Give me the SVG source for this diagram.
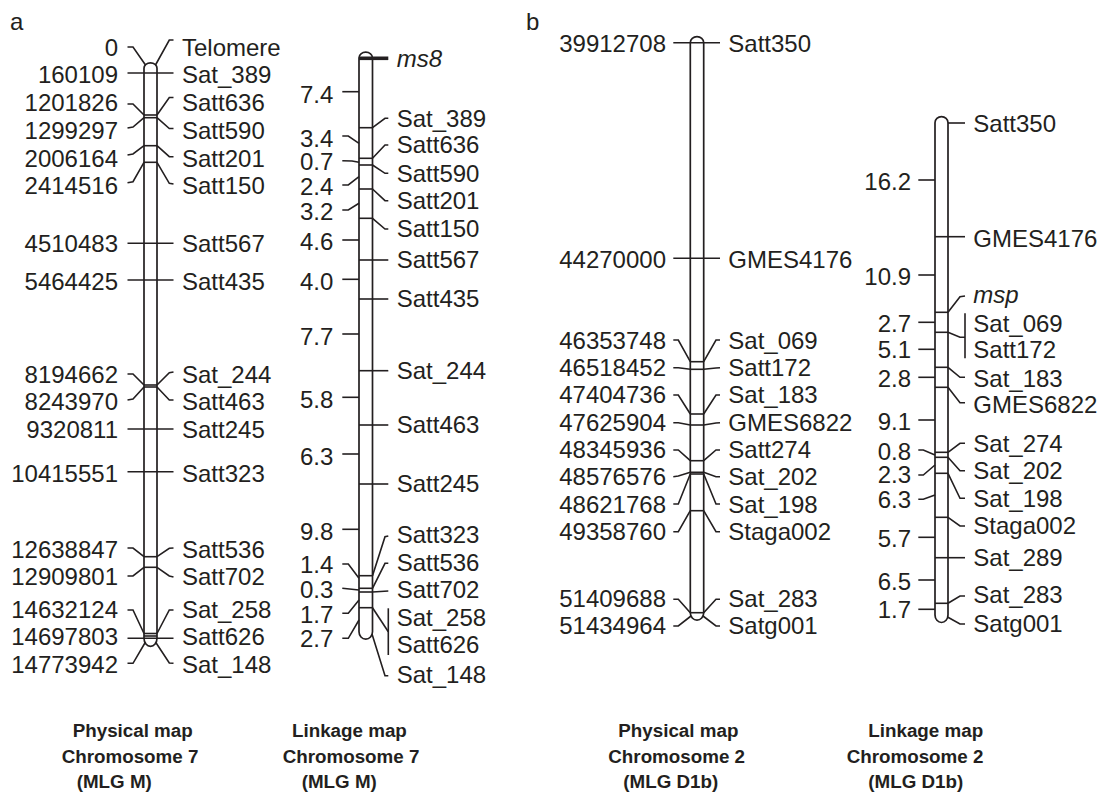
<svg xmlns="http://www.w3.org/2000/svg" width="1103" height="792" viewBox="0 0 1103 792">
<style>
text{font-family:"Liberation Sans",Arial,sans-serif;font-size:24px;fill:#231f20}
.e{text-anchor:end}
.i{font-style:italic}
.h{font-size:18.8px;font-weight:bold}
.bar{fill:#fff;stroke:#231f20;stroke-width:1.7}
.ln,.bd,polyline,line{stroke:#231f20;stroke-width:1.6;fill:none}
.thick{stroke-width:3.6}
</style>
<rect width="1103" height="792" fill="#fff"/>
<text x="10" y="30">a</text>
<text x="526" y="29.5">b</text>

<!-- Physical map chromosome 7 -->
<g id="map-a-physical">
<path class="bar" d="M144,68.3 A6.5,5.5 0 0 1 157,68.3 L157,638.3 A6.5,8 0 0 1 144,638.3 Z"/>
<g id="pa-bands">
<line x1="144" y1="115" x2="157" y2="115"/>
<line x1="144" y1="117.7" x2="157" y2="117.7"/>
<line x1="144" y1="145.7" x2="157" y2="145.7"/>
<line x1="144" y1="162.3" x2="157" y2="162.3"/>
<line x1="144" y1="385" x2="157" y2="385"/>
<line x1="144" y1="387" x2="157" y2="387"/>
<line x1="144" y1="556.7" x2="157" y2="556.7"/>
<line x1="144" y1="567.3" x2="157" y2="567.3"/>
<line x1="144" y1="633.5" x2="157" y2="633.5"/>
<line x1="144" y1="636" x2="157" y2="636"/>
</g>
<g id="pa-connectors">
<polyline points="127.5,47 133,47 145.5,65"/>
<polyline points="155.5,65 169.3,40 173.5,40"/>
<line x1="127.5" y1="73" x2="173.5" y2="73"/>
<polyline points="127.5,104 133,104 144,115"/>
<polyline points="157,115 169.3,97.5 173.5,97.5"/>
<polyline points="127.5,128 133,127 144,117.7"/>
<polyline points="157,117.7 169.3,128.5 173.5,128.5"/>
<polyline points="127.5,155 133,154 144,145.7"/>
<polyline points="157,145.7 169.3,156.7 173.5,156.7"/>
<polyline points="127.5,182.7 133,181.7 144,162.3"/>
<polyline points="157,162.3 169.3,183.3 173.5,184"/>
<line x1="127.5" y1="243.3" x2="173.5" y2="243.3"/>
<line x1="127.5" y1="280" x2="173.5" y2="280"/>
<polyline points="127.5,374 133,374 144,385"/>
<polyline points="157,385 169.3,372.7 173.5,372"/>
<polyline points="127.5,400 133,399 144,387"/>
<polyline points="157,387 169.3,400 173.5,400"/>
<line x1="127.5" y1="429" x2="173.5" y2="429"/>
<line x1="127.5" y1="471.7" x2="173.5" y2="471.7"/>
<polyline points="127.5,548 133,548 144,556.7"/>
<polyline points="157,556.7 169.3,548.3 173.5,548"/>
<polyline points="127.5,576 133,576 144,567.3"/>
<polyline points="157,567.3 169.3,576 173.5,577"/>
<polyline points="127.5,610 133,610 144,633.5"/>
<polyline points="157,633.5 169.3,610 173.5,610"/>
<line x1="127.5" y1="638.3" x2="173.5" y2="638.3"/>
<polyline points="127.5,663.3 133,663.3 145.5,642"/>
<polyline points="155.5,642 169.3,663 173.5,663.3"/>
</g>
<g id="pa-labels">
<text class="e" x="118" y="55.5">0</text>
<text class="e" x="118" y="83">160109</text>
<text class="e" x="118" y="111">1201826</text>
<text class="e" x="118" y="138.5">1299297</text>
<text class="e" x="118" y="166.5">2006164</text>
<text class="e" x="118" y="194">2414516</text>
<text class="e" x="118" y="252.3">4510483</text>
<text class="e" x="118" y="290">5464425</text>
<text class="e" x="118" y="383.3">8194662</text>
<text class="e" x="118" y="410">8243970</text>
<text class="e" x="118" y="438.3">9320811</text>
<text class="e" x="118" y="481.7">10415551</text>
<text class="e" x="118" y="558.3">12638847</text>
<text class="e" x="118" y="585">12909801</text>
<text class="e" x="118" y="618.3">14632124</text>
<text class="e" x="118" y="645">14697803</text>
<text class="e" x="118" y="672.7">14773942</text>
<text x="182" y="55.5">Telomere</text>
<text x="182" y="83">Sat_389</text>
<text x="182" y="111">Satt636</text>
<text x="182" y="138.5">Satt590</text>
<text x="182" y="166.5">Satt201</text>
<text x="182" y="194">Satt150</text>
<text x="182" y="252.3">Satt567</text>
<text x="182" y="290">Satt435</text>
<text x="182" y="383.3">Sat_244</text>
<text x="182" y="410">Satt463</text>
<text x="182" y="438.3">Satt245</text>
<text x="182" y="481.7">Satt323</text>
<text x="182" y="558.3">Satt536</text>
<text x="182" y="585">Satt702</text>
<text x="182" y="618.3">Sat_258</text>
<text x="182" y="645">Satt626</text>
<text x="182" y="672.7">Sat_148</text>
</g>
<g id="pa-title">
<text class="h" x="72.7" y="736.7">Physical map</text>
<text class="h" x="61.7" y="763">Chromosome 7</text>
<text class="h" x="76.7" y="788">(MLG M)</text>
</g>
</g>

<!-- Linkage map chromosome 7 -->
<g id="map-a-linkage">
<path class="bar" d="M359,57.7 A6.75,5.5 0 0 1 372.5,57.7 L372.5,631.7 A6.75,7.5 0 0 1 359,631.7 Z"/>
<g id="la-bands">
<line x1="359" y1="127.7" x2="372.5" y2="127.7"/>
<line x1="359" y1="158.3" x2="372.5" y2="158.3"/>
<line x1="359" y1="165" x2="372.5" y2="165"/>
<line x1="359" y1="189" x2="372.5" y2="189"/>
<line x1="359" y1="218.3" x2="372.5" y2="218.3"/>
<line x1="359" y1="575.7" x2="372.5" y2="575.7"/>
<line x1="359" y1="588.3" x2="372.5" y2="588.3"/>
<line x1="359" y1="592" x2="372.5" y2="592"/>
<line x1="359" y1="607.7" x2="372.5" y2="607.7"/>
</g>
<g id="la-connectors">
<line class="thick" x1="359" y1="58.3" x2="388.3" y2="58.3"/>
<line x1="342.3" y1="91.7" x2="359" y2="91.7"/>
<polyline points="342.3,136 348.3,136 359,143.3"/>
<polyline points="342.3,160.7 352,161 359,162.3"/>
<polyline points="342.3,185 348.3,185 359,176.7"/>
<polyline points="342.3,210 348.3,210 359,203.3"/>
<line x1="342.3" y1="240" x2="359" y2="240"/>
<line x1="342.3" y1="279.3" x2="359" y2="279.3"/>
<line x1="342.3" y1="334" x2="359" y2="334"/>
<line x1="342.3" y1="397.3" x2="359" y2="397.3"/>
<line x1="342.3" y1="454" x2="359" y2="454"/>
<line x1="342.3" y1="529.3" x2="359" y2="529.3"/>
<polyline points="342.3,564 348.3,564 359,578.3"/>
<polyline points="342.3,588.3 359,590"/>
<polyline points="342.3,613.3 348.3,613.3 359,600"/>
<polyline points="342.3,638.3 348.3,638.3 359,620"/>
<polyline points="372.5,127.7 385,118.3 388.3,118.3"/>
<polyline points="372.5,158.3 385,145 388.3,145"/>
<polyline points="372.5,165 385,173.3 388.3,173.3"/>
<polyline points="372.5,189 385,200.7 388.3,200.7"/>
<polyline points="372.5,218.3 385,229 388.3,229"/>
<line x1="359" y1="260" x2="388.3" y2="260"/>
<line x1="359" y1="299" x2="388.3" y2="299"/>
<line x1="359" y1="370.7" x2="388.3" y2="370.7"/>
<line x1="359" y1="425" x2="388.3" y2="425"/>
<line x1="359" y1="484" x2="388.3" y2="484"/>
<polyline points="372.5,575.7 385,536.7 388.3,536"/>
<polyline points="372.5,588.3 385,563.3 388.3,563.3"/>
<polyline points="372.5,592 388.3,591"/>
<polyline points="372.5,607.7 388.3,631.7"/>
<line x1="388.3" y1="608.3" x2="388.3" y2="655"/>
<polyline points="372,634 385,675.7 388.3,675.7"/>
</g>
<g id="la-labels">
<text class="e" x="333.3" y="102.7">7.4</text>
<text class="e" x="333.3" y="146.7">3.4</text>
<text class="e" x="333.3" y="170">0.7</text>
<text class="e" x="333.3" y="195">2.4</text>
<text class="e" x="333.3" y="220">3.2</text>
<text class="e" x="333.3" y="250">4.6</text>
<text class="e" x="333.3" y="290">4.0</text>
<text class="e" x="333.3" y="345">7.7</text>
<text class="e" x="333.3" y="408.3">5.8</text>
<text class="e" x="333.3" y="465">6.3</text>
<text class="e" x="333.3" y="540">9.8</text>
<text class="e" x="333.3" y="573.3">1.4</text>
<text class="e" x="333.3" y="598.3">0.3</text>
<text class="e" x="333.3" y="622.7">1.7</text>
<text class="e" x="333.3" y="646.7">2.7</text>
<text class="i" x="396.7" y="66.7">ms8</text>
<text x="396.7" y="126.7">Sat_389</text>
<text x="396.7" y="153.3">Satt636</text>
<text x="396.7" y="181.7">Satt590</text>
<text x="396.7" y="209">Satt201</text>
<text x="396.7" y="237.3">Satt150</text>
<text x="396.7" y="267.7">Satt567</text>
<text x="396.7" y="306.7">Satt435</text>
<text x="396.7" y="379">Sat_244</text>
<text x="396.7" y="433.3">Satt463</text>
<text x="396.7" y="491.7">Satt245</text>
<text x="396.7" y="543.3">Satt323</text>
<text x="396.7" y="571">Satt536</text>
<text x="396.7" y="598.3">Satt702</text>
<text x="396.7" y="626">Sat_258</text>
<text x="396.7" y="653.3">Satt626</text>
<text x="396.7" y="683.3">Sat_148</text>
</g>
<g id="la-title">
<text class="h" x="292" y="736.7">Linkage map</text>
<text class="h" x="282.7" y="763">Chromosome 7</text>
<text class="h" x="301.7" y="788">(MLG M)</text>
</g>
</g>

<!-- Physical map chromosome 2 -->
<g id="map-b-physical">
<path class="bar" d="M690.3,42.7 A6.7,6 0 0 1 703.7,42.7 L703.7,612.7 A6.7,7.5 0 0 1 690.3,612.7 Z"/>
<g id="pb-bands">
<line x1="690.3" y1="361.7" x2="703.7" y2="361.7"/>
<line x1="690.3" y1="369.3" x2="703.7" y2="369.3"/>
<line x1="690.3" y1="414" x2="703.7" y2="414"/>
<line x1="690.3" y1="425" x2="703.7" y2="425"/>
<line x1="690.3" y1="460.7" x2="703.7" y2="460.7"/>
<line x1="690.3" y1="472.3" x2="703.7" y2="472.3"/>
<line x1="690.3" y1="474" x2="703.7" y2="474"/>
<line x1="690.3" y1="510.7" x2="703.7" y2="510.7"/>
<line x1="690.3" y1="612.7" x2="703.7" y2="612.7"/>
</g>
<g id="pb-connectors">
<line x1="673.3" y1="42.7" x2="720" y2="42.7"/>
<line x1="673.3" y1="258.3" x2="720" y2="258.3"/>
<polyline points="673.3,340 678.3,340 690.3,361.7"/>
<polyline points="703.7,361.7 716,340 720,340"/>
<polyline points="673.3,367.7 678.3,367.7 690.3,369.3"/>
<polyline points="703.7,369.3 716,368 720,367.7"/>
<polyline points="673.3,395 678.3,395 690.3,414"/>
<polyline points="703.7,414 716,395 720,395"/>
<polyline points="673.3,422.7 678.3,422.7 690.3,425"/>
<polyline points="703.7,425 716,423 720,422.7"/>
<polyline points="673.3,450 678.3,450 690.3,460.7"/>
<polyline points="703.7,460.7 716,450 720,450"/>
<polyline points="673.3,476.7 678.3,476 690.3,472.3"/>
<polyline points="703.7,472.3 716,476.7 720,476.7"/>
<polyline points="673.3,504 678.3,504 690.3,474"/>
<polyline points="703.7,474 716,504 720,504"/>
<polyline points="673.3,531.7 678.3,531.7 690.3,510.7"/>
<polyline points="703.7,510.7 716,531.7 720,531.7"/>
<polyline points="673.3,599.3 678.3,599.3 690.3,612.7"/>
<polyline points="703.7,612.7 716,599.3 720,599.3"/>
<polyline points="673.3,626 678.3,626 691,616"/>
<polyline points="703,616 716,626 720,626"/>
</g>
<g id="pb-labels">
<text class="e" x="666" y="52.3">39912708</text>
<text class="e" x="666" y="268.3">44270000</text>
<text class="e" x="666" y="349.3">46353748</text>
<text class="e" x="666" y="376">46518452</text>
<text class="e" x="666" y="403.3">47404736</text>
<text class="e" x="666" y="430.7">47625904</text>
<text class="e" x="666" y="458.3">48345936</text>
<text class="e" x="666" y="485">48576576</text>
<text class="e" x="666" y="512.7">48621768</text>
<text class="e" x="666" y="540">49358760</text>
<text class="e" x="666" y="606.7">51409688</text>
<text class="e" x="666" y="634">51434964</text>
<text x="728.3" y="52.3">Satt350</text>
<text x="728.3" y="268.3">GMES4176</text>
<text x="728.3" y="349.3">Sat_069</text>
<text x="728.3" y="376">Satt172</text>
<text x="728.3" y="403.3">Sat_183</text>
<text x="728.3" y="430.7">GMES6822</text>
<text x="728.3" y="458.3">Satt274</text>
<text x="728.3" y="485">Sat_202</text>
<text x="728.3" y="512.7">Sat_198</text>
<text x="728.3" y="540">Staga002</text>
<text x="728.3" y="606.7">Sat_283</text>
<text x="728.3" y="634">Satg001</text>
</g>
<g id="pb-title">
<text class="h" x="618.3" y="736.7">Physical map</text>
<text class="h" x="608.3" y="763">Chromosome 2</text>
<text class="h" x="623.3" y="788">(MLG D1b)</text>
</g>
</g>

<!-- Linkage map chromosome 2 -->
<g id="map-b-linkage">
<path class="bar" d="M935,122.7 A6.5,6 0 0 1 948,122.7 L948,615 A6.5,7.5 0 0 1 935,615 Z"/>
<g id="lb-bands">
<line x1="935" y1="312.3" x2="948" y2="312.3"/>
<line x1="935" y1="332.3" x2="948" y2="332.3"/>
<line x1="935" y1="367.3" x2="948" y2="367.3"/>
<line x1="935" y1="387.3" x2="948" y2="387.3"/>
<line x1="935" y1="452.3" x2="948" y2="452.3"/>
<line x1="935" y1="457.3" x2="948" y2="457.3"/>
<line x1="935" y1="473.3" x2="948" y2="473.3"/>
<line x1="935" y1="517.3" x2="948" y2="517.3"/>
<line x1="935" y1="603.3" x2="948" y2="603.3"/>
</g>
<g id="lb-connectors">
<line x1="918.3" y1="180" x2="935" y2="180"/>
<line x1="918.3" y1="275" x2="935" y2="275"/>
<line x1="918.3" y1="322.3" x2="935" y2="322.3"/>
<line x1="918.3" y1="349.3" x2="935" y2="349.3"/>
<line x1="918.3" y1="377.3" x2="935" y2="377.3"/>
<line x1="918.3" y1="420" x2="935" y2="420"/>
<polyline points="918.3,450 923.3,450 935,455"/>
<polyline points="918.3,475 923.3,475 935,465"/>
<polyline points="918.3,499.3 923.3,499.3 935,495"/>
<line x1="918.3" y1="537.3" x2="935" y2="537.3"/>
<line x1="918.3" y1="580" x2="935" y2="580"/>
<line x1="918.3" y1="609.3" x2="935" y2="609.3"/>
<line x1="948" y1="123" x2="965" y2="123"/>
<line x1="935" y1="236.7" x2="965" y2="236.7"/>
<polyline points="948,312.3 960,296.7 965,296"/>
<polyline points="948,332.3 960,337.3 965,337.3"/>
<line x1="965" y1="313.3" x2="965" y2="358.3"/>
<polyline points="948,367.3 960,377.3 965,377.3"/>
<polyline points="948,387.3 960,402.7 965,402.7"/>
<polyline points="948,452.3 960,443.3 965,443.3"/>
<polyline points="948,457.3 960,470.7 965,470.7"/>
<polyline points="948,473.3 960,498.3 965,498.3"/>
<polyline points="948,517.3 960,526 965,526"/>
<line x1="935" y1="557.7" x2="965" y2="557.7"/>
<polyline points="948,603.3 960,596 965,596"/>
<polyline points="947.5,617 960,624 965,624"/>
</g>
<g id="lb-labels">
<text class="e" x="911" y="190">16.2</text>
<text class="e" x="911" y="285">10.9</text>
<text class="e" x="911" y="331.7">2.7</text>
<text class="e" x="911" y="358.3">5.1</text>
<text class="e" x="911" y="386.7">2.8</text>
<text class="e" x="911" y="430">9.1</text>
<text class="e" x="911" y="460">0.8</text>
<text class="e" x="911" y="483.3">2.3</text>
<text class="e" x="911" y="508.3">6.3</text>
<text class="e" x="911" y="546.7">5.7</text>
<text class="e" x="911" y="590">6.5</text>
<text class="e" x="911" y="618.3">1.7</text>
<text x="973.3" y="132.3">Satt350</text>
<text x="973.3" y="246.7">GMES4176</text>
<text class="i" x="973.3" y="303.3">msp</text>
<text x="973.3" y="331.7">Sat_069</text>
<text x="973.3" y="358.3">Satt172</text>
<text x="973.3" y="386.7">Sat_183</text>
<text x="973.3" y="413.3">GMES6822</text>
<text x="973.3" y="452.3">Sat_274</text>
<text x="973.3" y="479.3">Sat_202</text>
<text x="973.3" y="506.7">Sat_198</text>
<text x="973.3" y="534">Staga002</text>
<text x="973.3" y="565.7">Sat_289</text>
<text x="973.3" y="603.3">Sat_283</text>
<text x="973.3" y="631.7">Satg001</text>
</g>
<g id="lb-title">
<text class="h" x="868.3" y="736.7">Linkage map</text>
<text class="h" x="846.7" y="763">Chromosome 2</text>
<text class="h" x="868.3" y="788">(MLG D1b)</text>
</g>
</g>
</svg>
